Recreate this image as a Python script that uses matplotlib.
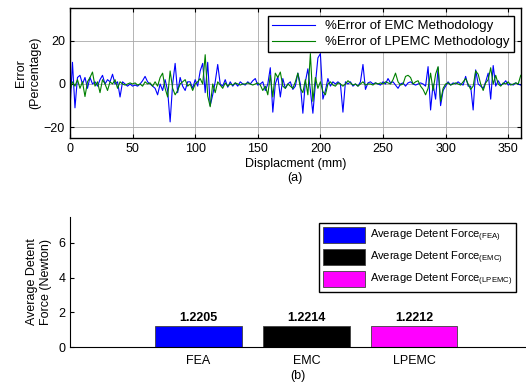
import matplotlib
matplotlib.use("Agg")
import matplotlib.pyplot as plt
import numpy as np

plt.rcParams['font.family'] = ['Liberation Sans', 'DejaVu Sans']
plt.rcParams['mathtext.default'] = 'regular'

# Panel (a): percentage error vs displacement (read every 2 mm)
displacement = np.arange(0, 361, 2)
err_emc = [
    -12, 10, -11, 3, 4, 0, 3, -2, 3, 0,
    1, -1, 2, 4, 0, 2, 1, 4.5, 0, 1,
    -6, 1, 0, -1, 0, -1, -0.5, -1, 0, 1.5,
    3.5, 1, 0, -1, -2, -5, 0, -3, 2, -3,
    -17.5, 0, 9.5, -4, 3, -1, -3, 1, 1, -2,
    2, -1, 6, 9.5, -4, 10, -10, -5, 1, 9,
    0, -1, 2, -1.5, 1, -1, 0.5, -1, 1, 0,
    -0.5, 1, 0, 1.5, 2.5, -0.5, 0, 1, -3, 0,
    7.5, -13, 0, 3.5, -6, 2.5, -2, 0, 1, -2.5,
    -1, 5, 0, -13.5, 1, 7, -3, -13.5, 0, 12,
    14, -7, -3, 2.5, -1, 1, 0, 1, 0, -13,
    1, 0, 1, -1, 0, -1, 1, 9, -2.5, 0.5,
    1, 0, 0.5, 0, -0.5, 1, 0, 2.5, 0.5, 1,
    -0.5, -2, 0, 0.5, -1, 0.5, 1, 0, -0.5, 0,
    0.5, 0, -1, 8, -12, 0, -7, 7.5, -10, -3,
    -1, 1, -0.5, 0.5, 0, 1, 0, -0.5, 3.5, -1,
    -1, -12, 6.5, 0, -1, -2, 1, 5, -7, 8.5,
    -1, 1.5, -0.5, 0, 1.5, -0.5, 0, -0.5, 0.5, 0,
    -0.5,
]
err_lpemc = [
    -3, 1, -1, 2, -2, 1, -5.8, 1, 3, 5.5,
    -1, 1, -4, 2, 0, -3, 1, 0, 2, -2,
    1, 0, -0.5, 0, 0.5, 0, 0.5, -0.5, 0, -1,
    1, 0, 0.5, -1, 1, -1, 3, 5, -2, -6,
    6, -2, -5, -3, 0, 1, 2, -1, 0, -3,
    0, 1, 2.5, 0, 13.5, -5.5, -10.5, 0, -4, 1,
    -0.5, -2, 0.5, -1, 0, -0.5, 0.5, 0, -0.5, 0,
    0, 0.5, 0, -0.5, 0, 0.5, -0.5, -3, -1, -5,
    4, -6, 5, 3, 5.5, -1, -2, 0, -1, -2,
    1, 5, -2, -4, 2, -5, 14, -8, 3, -2,
    1, -3.5, -5, 0, 1, -0.5, -1, 0.5, 0, -1,
    0, 1.5, 0.5, -0.5, 0, -1, 0, 1, -0.5, 0,
    0, -0.5, 0.5, 0, 0.5, 0, 1, 0.5, 0, 2,
    5, 1, -0.5, 0, 3.5, 4, 3, 0, 1, 1.5,
    -1, -2.5, -5, -2, 5, -3, 4.5, 8, -8, -2,
    0, 0.5, -0.5, 0, 0.5, 0, -0.5, 1, 2.5, 0,
    -2.5, -1, 6, 4.5, 0, -3, 0.5, 2, 7.5, 0,
    4, 0, -1, 0.5, 0, 1, -0.5, 0, 0.5, 0,
    4,
]

# Panel (b): average detent force
methods = ['FEA', 'EMC', 'LPEMC']
avg_force = [1.2205, 1.2214, 1.2212]
bar_colors = ['#0000ff', '#000000', '#ff00ff']
legend_labels = ['Average Detent Force$_{(FEA)}$',
                 'Average Detent Force$_{(EMC)}$',
                 'Average Detent Force$_{(LPEMC)}$']

fig = plt.figure(figsize=(5.26, 3.87), dpi=100)

# ---- top panel ----
ax1 = fig.add_axes([0.133, 0.643, 0.857, 0.336])
ax1.plot(displacement, err_emc, color='#0000ff', lw=0.8, label='%Error of EMC Methodology')
ax1.plot(displacement, err_lpemc, color='#008000', lw=0.8, label='%Error of LPEMC Methodology')
ax1.set_xlim(0, 360)
ax1.set_ylim(-25, 35)
ax1.set_xticks(range(0, 351, 50))
ax1.set_yticks([-20, 0, 20])
ax1.grid(True, color='#a8a8a8', lw=0.6, linestyle='-')
ax1.tick_params(direction='in', top=True, right=True, labelsize=9, length=3)
ax1.set_xlabel('Displacment (mm)\n(a)', fontsize=9, labelpad=2)
ax1.set_ylabel('Error\n(Percentage)', fontsize=9, labelpad=2)
for s in ax1.spines.values():
    s.set_linewidth(1.0)
leg1 = ax1.legend(loc='upper right', bbox_to_anchor=(0.984, 0.94), fontsize=9.5,
                  frameon=True, fancybox=False, framealpha=1, edgecolor='black',
                  handlelength=3.2, labelspacing=0.3, borderpad=0.3, borderaxespad=0)
leg1.get_frame().set_linewidth(1.0)

# ---- bottom panel ----
ax2 = fig.add_axes([0.134, 0.103, 0.866, 0.337])
pos = np.arange(1, len(methods) + 1)
bars = ax2.bar(pos, avg_force, width=0.8, color=bar_colors, edgecolor='#404040',
               linewidth=0.6, label=legend_labels)
for b, v in zip(bars, avg_force):
    ax2.text(b.get_x() + b.get_width() / 2, v + 0.12, f'{v:.4f}', ha='center',
             va='bottom', fontsize=9, fontweight='bold')
ax2.set_xlim(-0.187, 4.036)
ax2.set_ylim(0, 7.5)
ax2.set_yticks([0, 2, 4, 6])
ax2.set_xticks(pos)
ax2.set_xticklabels(methods)
ax2.tick_params(axis='y', direction='in', labelsize=9, length=3)
ax2.tick_params(axis='x', length=0, labelsize=9, pad=6)
ax2.spines['top'].set_visible(False)
ax2.spines['right'].set_visible(False)
ax2.set_xlabel('(b)', fontsize=9, labelpad=2)
ax2.set_ylabel('Average Detent\nForce (Newton)', fontsize=9, labelpad=5)
leg2 = ax2.legend(bars, legend_labels, loc='upper right', bbox_to_anchor=(0.978, 0.952),
                  fontsize=8, frameon=True, fancybox=False, framealpha=1,
                  edgecolor='black', handlelength=3.8, handleheight=1.9,
                  labelspacing=0.4, borderpad=0.35, borderaxespad=0, handletextpad=0.4)
leg2.get_frame().set_linewidth(1.0)

fig.savefig('out.png', dpi=100)
